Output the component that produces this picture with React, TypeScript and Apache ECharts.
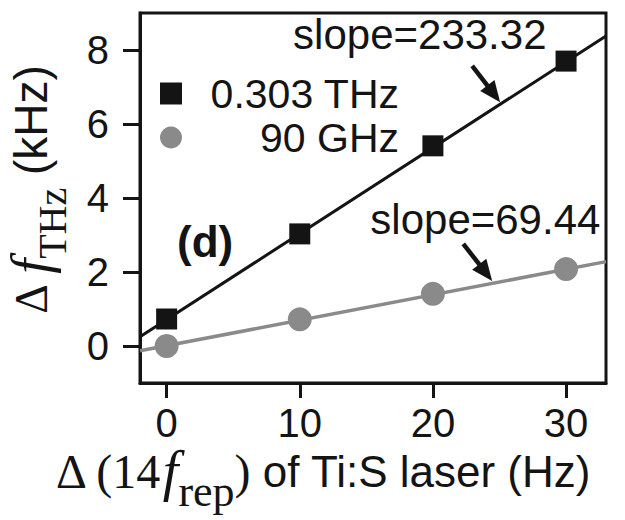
import React, { useEffect, useRef } from "react";
import * as echarts from "echarts";

// ---- data ----
const xTicks = [0, 10, 20, 30];
const yTicks = [0, 2, 4, 6, 8];
const seriesNames = ["0.303 THz", "90 GHz"];
const thzX = [0, 10, 20, 30];
const thzY = [0.73, 3.03, 5.41, 7.7];
const ghzX = [0, 10, 20, 30];
const ghzY = [0.0, 0.72, 1.41, 2.08];
const thzFitX = [-2, 33];
const thzFitY = [0.25, 8.38];
const ghzFitX = [-2, 33];
const ghzFitY = [-0.13, 2.28];
const slopeLabels = ["slope=233.32", "slope=69.44"];
const slopeLabelPos = [
  [9.5, 8.41],
  [15.3, 3.41],
];
const arrowTail = [
  [22.95, 7.57],
  [22.28, 2.76],
];
const arrowTip = [
  [25.05, 6.59],
  [24.45, 1.76],
];
const panelLabel = "(d)";

const SANS = "'Liberation Sans', Arial, Helvetica, sans-serif";
const SERIF = "'Liberation Serif', 'Times New Roman', serif";
const BLACK = "#141414";
const GRAY = "#8a8a8a";

const zip = (xs: number[], ys: number[]) => xs.map((x, i) => [x, ys[i]]);

export default function App() {
  const ref = useRef<HTMLDivElement>(null);
  useEffect(() => {
    if (!ref.current) return;
    const chart = echarts.init(ref.current, null, { renderer: "svg" });
    const axisCommon = {
      type: "value" as const,
      splitLine: { show: false },
      axisLine: { show: true, onZero: false, lineStyle: { color: BLACK, width: 3 } },
    };
    chart.setOption({
      animation: false,
      backgroundColor: "#ffffff",
      grid: {
        left: 140,
        top: 13,
        right: 19,
        bottom: 137,
        show: true,
        borderColor: BLACK,
        borderWidth: 3,
        containLabel: false,
      },
      xAxis: {
        ...axisCommon,
        min: -2,
        max: 33,
        axisTick: {
          show: true,
          inside: false,
          length: 15,
          customValues: xTicks,
          lineStyle: { color: BLACK, width: 3 },
        },
        axisLabel: {
          customValues: xTicks,
          fontSize: 40,
          fontFamily: SANS,
          color: BLACK,
          margin: 20,
        },
      },
      yAxis: {
        ...axisCommon,
        min: -1,
        max: 9,
        axisTick: {
          show: true,
          inside: false,
          length: 17,
          customValues: yTicks,
          lineStyle: { color: BLACK, width: 3 },
        },
        axisLabel: {
          customValues: yTicks,
          fontSize: 40,
          fontFamily: SANS,
          color: BLACK,
          margin: 31,
        },
      },
      legend: {
        data: seriesNames,
        orient: "vertical",
        left: 155,
        top: 68,
        itemWidth: 22,
        itemHeight: 22,
        itemGap: 3,
        formatter: "{a|{name}}",
        textStyle: {
          fontSize: 41,
          fontFamily: SANS,
          color: BLACK,
          rich: {
            a: { width: 212, align: "right", fontSize: 41, fontFamily: SANS, color: BLACK },
          },
        },
      },
      series: [
        {
          type: "line",
          data: zip(thzFitX, thzFitY),
          symbol: "none",
          lineStyle: { color: BLACK, width: 3 },
          z: 2,
        },
        {
          type: "line",
          data: zip(ghzFitX, ghzFitY),
          symbol: "none",
          lineStyle: { color: GRAY, width: 3.5 },
          z: 2,
        },
        {
          name: seriesNames[0],
          type: "scatter",
          symbol: "rect",
          symbolSize: 21,
          itemStyle: { color: BLACK, opacity: 1 },
          data: zip(thzX, thzY),
          z: 5,
        },
        {
          name: seriesNames[1],
          type: "scatter",
          symbol: "circle",
          symbolSize: 24,
          itemStyle: { color: GRAY, opacity: 1 },
          data: zip(ghzX, ghzY),
          z: 5,
        },
      ],
    });

    const px = (p: number[]) => chart.convertToPixel({ gridIndex: 0 }, p) as number[];
    const graphics: any[] = [];
    slopeLabels.forEach((t, i) => {
      const [x, y] = px(slopeLabelPos[i]);
      graphics.push({
        type: "text",
        z: 10,
        style: {
          text: t,
          x,
          y,
          align: "left",
          verticalAlign: "middle",
          fontSize: 42,
          fontFamily: SANS,
          fill: BLACK,
        },
      });
    });
    arrowTail.forEach((tailD, i) => {
      const tail = px(tailD);
      const tip = px(arrowTip[i]);
      const dx = tip[0] - tail[0];
      const dy = tip[1] - tail[1];
      const len = Math.hypot(dx, dy);
      const ux = dx / len;
      const uy = dy / len;
      const hl = 21;
      const hw = 9;
      const bx = tip[0] - ux * hl;
      const by = tip[1] - uy * hl;
      graphics.push({
        type: "line",
        z: 10,
        shape: { x1: tail[0], y1: tail[1], x2: bx + ux * 3, y2: by + uy * 3 },
        style: { stroke: BLACK, lineWidth: 4.5 },
      });
      graphics.push({
        type: "polygon",
        z: 10,
        shape: {
          points: [
            [tip[0], tip[1]],
            [bx - uy * hw, by + ux * hw],
            [bx + uy * hw, by - ux * hw],
          ],
        },
        style: { fill: BLACK },
      });
    });
    // panel label
    graphics.push({
      type: "text",
      z: 10,
      style: {
        text: panelLabel,
        x: 177,
        y: 241,
        align: "left",
        verticalAlign: "middle",
        fontSize: 44,
        fontWeight: "bold",
        fontFamily: SANS,
        fill: BLACK,
      },
    });
    // y-axis title
    graphics.push({
      type: "text",
      z: 10,
      x: 31,
      y: 190,
      rotation: Math.PI / 2,
      style: {
        text: "{d|Δ }{f|f}{s|THz}{u| (kHz)}",
        x: 0,
        y: 0,
        align: "center",
        verticalAlign: "middle",
        fill: BLACK,
        rich: {
          d: { fontSize: 46, fontFamily: SERIF, fill: BLACK },
          f: { fontSize: 54, fontFamily: SERIF, fontStyle: "italic", fill: BLACK },
          s: { fontSize: 40, fontFamily: SERIF, fill: BLACK, padding: [42, 0, 0, 0] },
          u: { fontSize: 46, fontFamily: SANS, fill: BLACK },
        },
      },
    });
    // x-axis title
    graphics.push({
      type: "text",
      z: 10,
      style: {
        text: "{d|Δ (14}{f|f}{s|rep}{d|)}{u| of Ti:S laser (Hz)}",
        x: 56,
        y: 471,
        align: "left",
        verticalAlign: "middle",
        fill: BLACK,
        rich: {
          d: { fontSize: 48, fontFamily: SERIF, fill: BLACK },
          f: { fontSize: 56, fontFamily: SERIF, fontStyle: "italic", fill: BLACK },
          s: { fontSize: 44, fontFamily: SERIF, fill: BLACK, padding: [40, 0, 0, 0] },
          u: { fontSize: 44, fontFamily: SANS, fill: BLACK },
        },
      },
    });
    chart.setOption({ graphic: graphics });

    return () => chart.dispose();
  }, []);
  return (
    <div
      ref={ref}
      style={{ width: 625, height: 520, position: "fixed", left: 0, top: 0 }}
    />
  );
}
